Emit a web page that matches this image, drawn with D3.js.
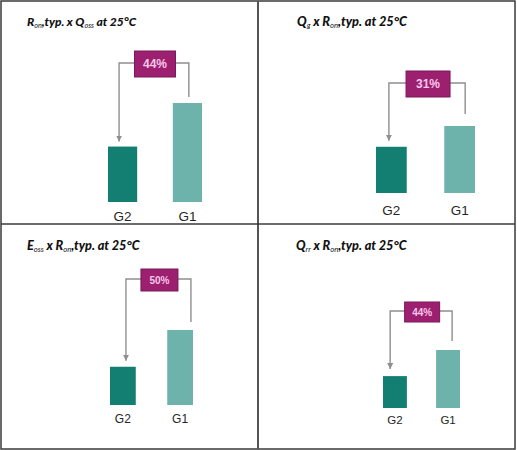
<!DOCTYPE html>
<html>
<head>
<meta charset="utf-8">
<script src="https://cdn.jsdelivr.net/npm/d3@7"></script>
<style>
  body { margin: 0; background: #fff; }
</style>
</head>
<body>
<div id="chart"></div>
<script>
// data
var categories = ["G2", "G1"];
var g1Values = [100, 100, 100, 100];
var g2Values = [56, 69, 51, 55];
var reductions = ["44%", "31%", "50%", "44%"];
var titles = [
  [["R", ""], ["on", "sub"], [",typ. x Q", ""], ["oss", "sub"], [" at 25°C", ""]],
  [["Q", ""], ["g", "sub"], ["  x R", ""], ["on", "sub"], [",typ. at 25°C", ""]],
  [["E", ""], ["oss", "sub"], [" x R", ""], ["on", "sub"], [",typ. at 25°C", ""]],
  [["Q", ""], ["rr", "sub"], [" x R", ""], ["on", "sub"], [",typ. at 25°C", ""]]
];

// layout of each panel (pixels)
var layout = [
  { x0: 108, x1: 202, base: 202, h: 99, bracketY: 63, lf: 0.38, rf: 0.55, arrowGap: 5, rightGap: 6,
    boxW: 41, boxH: 26, pctSize: 12, labelY: 221, labelSize: 13.5, titleX: 27, titleY: 26, titleSize: 12 },
  { x0: 376, x1: 475, base: 193, h: 67, bracketY: 83, lf: 0.42, rf: 0.68, arrowGap: 6, rightGap: 12,
    boxW: 44, boxH: 26, pctSize: 12, labelY: 215, labelSize: 13.5, titleX: 297, titleY: 26, titleSize: 12.8 },
  { x0: 110, x1: 193, base: 405, h: 75, bracketY: 279, lf: 0.62, rf: 0.92, arrowGap: 6, rightGap: 8,
    boxW: 37, boxH: 22, pctSize: 10, labelY: 423, labelSize: 12, titleX: 27, titleY: 250, titleSize: 12.7 },
  { x0: 383, x1: 460, base: 408, h: 58, bracketY: 311, lf: 0.3, rf: 0.67, arrowGap: 7, rightGap: 9,
    boxW: 35, boxH: 20, pctSize: 10, labelY: 424, labelSize: 11.5, titleX: 296, titleY: 250, titleSize: 12.7 }
];

var width = 517, height = 450;
var colors = { G2: "#137f72", G1: "#6db3ab" };

var svg = d3.select("#chart")
  .append("svg")
  .attr("width", width)
  .attr("height", height);

svg.append("defs")
  .append("marker")
  .attr("id", "arrow")
  .attr("viewBox", "0 0 10 10")
  .attr("refX", 10)
  .attr("refY", 5)
  .attr("markerWidth", 6)
  .attr("markerHeight", 6)
  .attr("markerUnits", "userSpaceOnUse")
  .attr("orient", "auto")
  .append("path")
  .attr("d", "M0,0 L10,5 L0,10 Z")
  .attr("fill", "#8f8f8f");

// frame
svg.append("rect")
  .attr("x", 1).attr("y", 1)
  .attr("width", 514).attr("height", 448)
  .attr("fill", "none")
  .attr("stroke", "#3a3a3a")
  .attr("stroke-width", 1.5);
svg.append("line")
  .attr("x1", 258).attr("x2", 258).attr("y1", 1).attr("y2", 449)
  .attr("stroke", "#555").attr("stroke-width", 2);
svg.append("line")
  .attr("x1", 1).attr("x2", 515).attr("y1", 224).attr("y2", 224)
  .attr("stroke", "#3a3a3a").attr("stroke-width", 1.5);

layout.forEach(function (L, i) {
  var g = svg.append("g");
  var values = { G2: g2Values[i], G1: g1Values[i] };

  var x = d3.scaleBand().domain(categories).range([L.x0, L.x1])
    .paddingInner(0.55).paddingOuter(0);
  var y = d3.scaleLinear().domain([0, 100]).range([L.base, L.base - L.h]);

  // title with subscripts
  var t = g.append("text")
    .attr("x", L.titleX).attr("y", L.titleY)
    .attr("font-family", "Lato, 'Open Sans', sans-serif")
    .attr("font-style", "italic")
    .attr("fill", "#111");
  var prev = "";
  titles[i].forEach(function (s) {
    var ts = t.append("tspan").text(s[0]);
    var dy = 0;
    if (s[1] === "sub") {
      ts.attr("font-size", L.titleSize * 0.6).attr("font-weight", 400);
      if (prev !== "sub") dy = 2;
    } else {
      ts.attr("font-size", L.titleSize).attr("font-weight", 900);
      if (prev === "sub") dy = -2;
    }
    ts.attr("dy", dy);
    prev = s[1];
  });

  // bars
  g.selectAll("rect.bar")
    .data(categories)
    .join("rect")
    .attr("class", "bar")
    .attr("x", function (c) { return x(c); })
    .attr("y", function (c) { return y(values[c]); })
    .attr("width", x.bandwidth())
    .attr("height", function (c) { return y(0) - y(values[c]); })
    .attr("fill", function (c) { return colors[c]; });

  // category labels
  g.selectAll("text.cat")
    .data(categories)
    .join("text")
    .attr("class", "cat")
    .attr("x", function (c) { return x(c) + x.bandwidth() / 2; })
    .attr("y", L.labelY)
    .attr("text-anchor", "middle")
    .attr("font-family", "'Liberation Sans', Arial, sans-serif")
    .attr("font-size", L.labelSize)
    .attr("fill", "#262626")
    .text(function (c) { return c; });

  // bracket with arrow
  var lx = x("G2") + x.bandwidth() * L.lf;
  var rx = x("G1") + x.bandwidth() * L.rf;
  var tipY = y(values.G2) - L.arrowGap;
  var endY = y(values.G1) - L.rightGap;
  g.append("path")
    .attr("d", "M" + rx + "," + endY + " V" + L.bracketY + " H" + lx + " V" + tipY)
    .attr("fill", "none")
    .attr("stroke", "#8f8f8f")
    .attr("stroke-width", 1.4)
    .attr("marker-end", "url(#arrow)");

  // percentage box
  var cx = (lx + rx) / 2 + 1;
  var cy = L.bracketY + 1;
  g.append("rect")
    .attr("x", cx - L.boxW / 2).attr("y", cy - L.boxH / 2)
    .attr("width", L.boxW).attr("height", L.boxH)
    .attr("fill", "#9c1f70")
    .attr("stroke", "#7a1858")
    .attr("stroke-width", 1);
  g.append("text")
    .attr("x", cx).attr("y", cy)
    .attr("dy", "0.36em")
    .attr("text-anchor", "middle")
    .attr("font-family", "'Liberation Sans', Arial, sans-serif")
    .attr("font-weight", 700)
    .attr("font-size", L.pctSize)
    .attr("fill", "#f8c8ea")
    .text(reductions[i]);
});
</script>
</body>
</html>
